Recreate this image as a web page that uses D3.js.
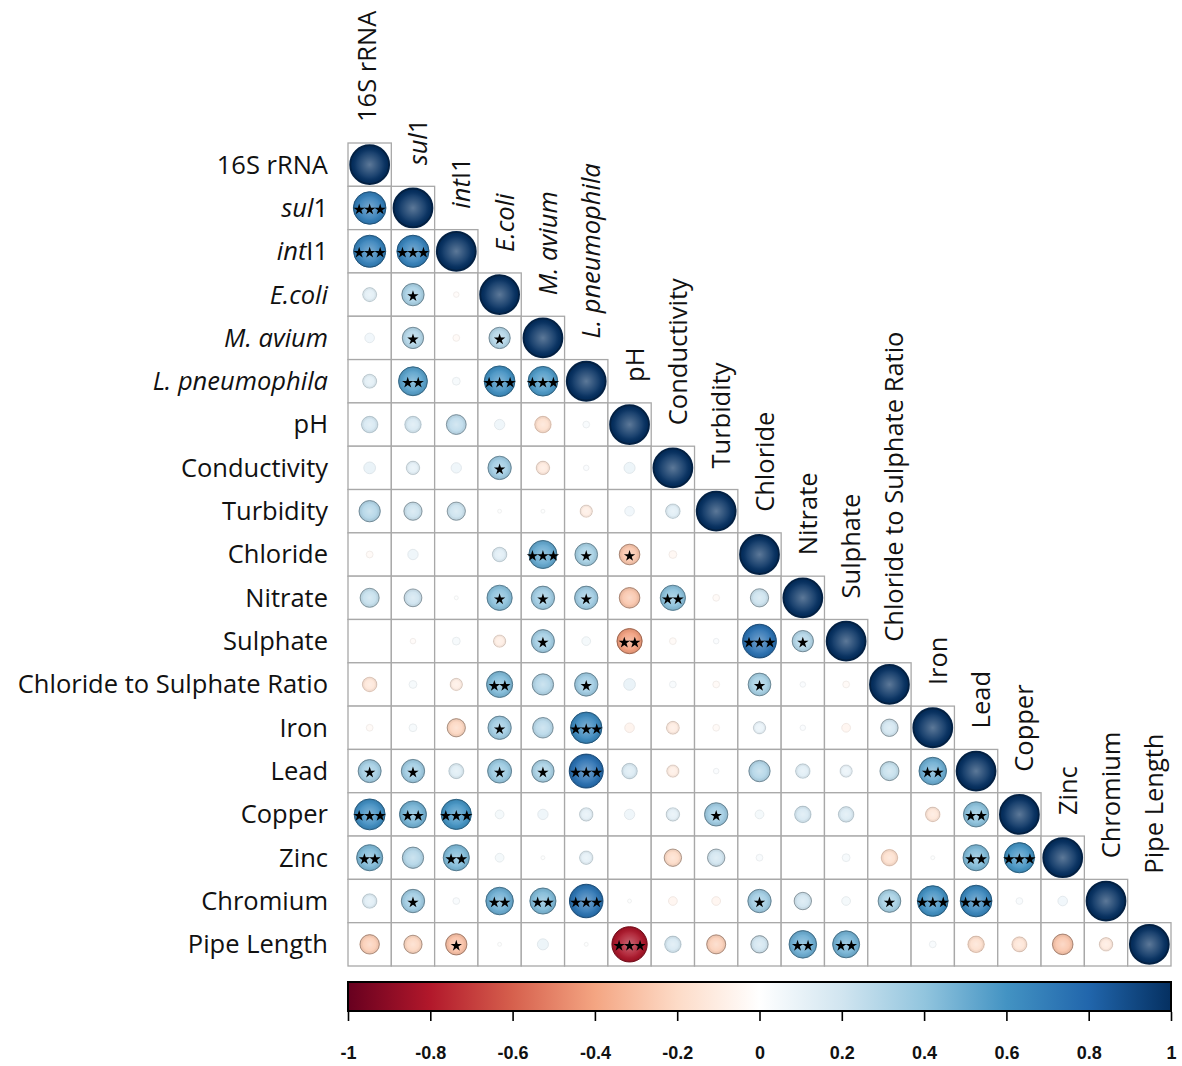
<!DOCTYPE html>
<html>
<head>
<meta charset="utf-8">
<script src="https://cdn.jsdelivr.net/npm/d3@7"></script>
<style>
  body { margin: 0; background: #fff; }
  svg text { font-family: "Open Sans", "Noto Sans", sans-serif; fill: #111; }
  .tick-lab { font-family: "Liberation Sans Narrow", "Liberation Sans", sans-serif; font-weight: bold; font-stretch: condensed; }
</style>
</head>
<body>
<svg id="chart" width="1182" height="1066"></svg>
<script>
// variables (rows and columns)
const labels = ["16S rRNA", "sul1", "intI1", "E.coli", "M. avium", "L. pneumophila", "pH",
  "Conductivity", "Turbidity", "Chloride", "Nitrate", "Sulphate", "Chloride to Sulphate Ratio",
  "Iron", "Lead", "Copper", "Zinc", "Chromium", "Pipe Length"];
// italic prefix of each label
const italicPart = { "sul1": "sul", "intI1": "int", "E.coli": "E.coli", "M. avium": "M. avium", "L. pneumophila": "L. pneumophila" };

// lower triangle, row i holds columns 0..i-1 (diagonal = 1)
const corr = [
  [],
  [0.70],
  [0.68, 0.68],
  [0.13, 0.33, -0.02],
  [0.06, 0.30, -0.03, 0.30],
  [0.13, 0.55, 0.04, 0.62, 0.58],
  [0.18, 0.18, 0.26, 0.07, -0.18, 0.03],
  [0.09, 0.12, 0.07, 0.36, -0.12, 0.02, 0.08],
  [0.30, 0.22, 0.22, 0.01, 0.01, -0.10, 0.06, 0.14],
  [-0.03, 0.07, 0, 0.14, 0.52, 0.34, -0.28, -0.04, 0],
  [0.24, 0.21, 0.01, 0.42, 0.36, 0.36, -0.28, 0.42, -0.03, 0.22],
  [0, -0.02, 0.04, -0.10, 0.35, 0.05, -0.42, -0.03, 0.02, 0.75, 0.30],
  [-0.14, 0.04, -0.10, 0.45, 0.30, 0.36, 0.09, 0.03, -0.03, 0.34, 0.02, -0.03],
  [-0.03, 0.04, -0.22, 0.36, 0.28, 0.65, -0.06, -0.11, -0.03, 0.10, 0.02, -0.05, 0.20],
  [0.35, 0.36, 0.15, 0.38, 0.33, 0.76, 0.16, -0.10, 0.02, 0.30, 0.14, 0.10, 0.24, 0.50],
  [0.63, 0.48, 0.60, 0.05, 0.07, 0.12, 0.07, 0.12, 0.36, 0.05, 0.18, 0.16, 0, -0.14, 0.42],
  [0.45, 0.30, 0.45, 0.05, 0.01, 0.12, 0, -0.20, 0.20, 0.03, 0, 0.04, -0.18, 0.01, 0.45, 0.60],
  [0.14, 0.36, 0.03, 0.50, 0.45, 0.74, 0.01, -0.05, -0.05, 0.36, 0.20, 0.05, 0.34, 0.62, 0.66, 0.03, 0.06],
  [-0.25, -0.22, -0.30, 0.01, 0.08, 0.01, -0.82, 0.18, -0.24, 0.20, 0.50, 0.48, 0, 0.03, -0.18, -0.15, -0.28, -0.12]
];
// number of significance stars, same shape as corr
const sig = [
  [],
  [3],
  [3, 3],
  [0, 1, 0],
  [0, 1, 0, 1],
  [0, 2, 0, 3, 3],
  [0, 0, 0, 0, 0, 0],
  [0, 0, 0, 1, 0, 0, 0],
  [0, 0, 0, 0, 0, 0, 0, 0],
  [0, 0, 0, 0, 3, 1, 1, 0, 0],
  [0, 0, 0, 1, 1, 1, 0, 2, 0, 0],
  [0, 0, 0, 0, 1, 0, 2, 0, 0, 3, 1],
  [0, 0, 0, 2, 0, 1, 0, 0, 0, 1, 0, 0],
  [0, 0, 0, 1, 0, 3, 0, 0, 0, 0, 0, 0, 0],
  [1, 1, 0, 1, 1, 3, 0, 0, 0, 0, 0, 0, 0, 2],
  [3, 2, 3, 0, 0, 0, 0, 0, 1, 0, 0, 0, 0, 0, 2],
  [2, 0, 2, 0, 0, 0, 0, 0, 0, 0, 0, 0, 0, 0, 2, 3],
  [0, 1, 0, 2, 2, 3, 0, 0, 0, 1, 0, 0, 1, 3, 3, 0, 0],
  [0, 0, 1, 0, 0, 0, 3, 0, 0, 0, 2, 2, 0, 0, 0, 0, 0, 0]
];
// colour bar
const barTicks = [-1, -0.8, -0.6, -0.4, -0.2, 0, 0.2, 0.4, 0.6, 0.8, 1];
const rdbu = ["#67001F", "#B2182B", "#D6604D", "#F4A582", "#FDDBC7", "#FFFFFF",
  "#D1E5F0", "#92C5DE", "#4393C3", "#2166AC", "#053061"];

const svg = d3.select("#chart");
const n = labels.length;
const gridLeft = 348, gridTop = 143, gridW = 823;
const labelSize = 25.5;

const x = d3.scaleBand().domain(d3.range(n)).range([gridLeft, gridLeft + gridW]);
const y = d3.scaleBand().domain(d3.range(n)).range([gridTop, gridTop + gridW]);
const cell = x.bandwidth();
const color = d3.scaleLinear().domain(barTicks).range(rdbu).interpolate(d3.interpolateRgb);
const rScale = d3.scaleSqrt().domain([0, 1]).range([0, cell * 0.45]);

// flatten cells
const cells = [];
for (let i = 0; i < n; i++) {
  for (let j = 0; j <= i; j++) {
    cells.push({ i, j, v: i === j ? 1 : corr[i][j], s: i === j ? 0 : sig[i][j] });
  }
}

const defs = svg.append("defs");
const gloss = defs.append("radialGradient").attr("id", "gloss")
  .attr("cx", "50%").attr("cy", "50%").attr("r", "50%");
gloss.append("stop").attr("offset", "0%").attr("stop-color", "#fff").attr("stop-opacity", 0.35);
gloss.append("stop").attr("offset", "65%").attr("stop-color", "#fff").attr("stop-opacity", 0.08);
gloss.append("stop").attr("offset", "88%").attr("stop-color", "#000").attr("stop-opacity", 0.05);
gloss.append("stop").attr("offset", "100%").attr("stop-color", "#000").attr("stop-opacity", 0.2);

// grid cells
svg.append("g").selectAll("rect").data(cells).join("rect")
  .attr("x", d => x(d.j)).attr("y", d => y(d.i))
  .attr("width", cell).attr("height", cell)
  .attr("fill", "#fff").attr("stroke", "#a8a8a8").attr("stroke-width", 1.3);

// circles
const cg = svg.append("g").selectAll("g").data(cells.filter(d => Math.abs(d.v) > 0.005)).join("g")
  .attr("transform", d => `translate(${x(d.j) + cell / 2},${y(d.i) + cell / 2})`);
cg.append("circle")
  .attr("r", d => rScale(Math.abs(d.v)))
  .attr("fill", d => color(d.v))
  .attr("stroke", d => {
    const c = d3.color(color(d.v));
    return Math.abs(d.v) < 0.2 ? c.darker(0.15) : c.darker(0.8);
  })
  .attr("stroke-width", d => d.i === d.j ? 1.8 : 1);
cg.filter(d => Math.abs(d.v) >= 0.1).append("circle")
  .attr("r", d => rScale(Math.abs(d.v)))
  .attr("fill", "url(#gloss)");

// stars
const star = d3.symbol().type(d3.symbolStar).size(40);
cg.each(function (d) {
  for (let k = 0; k < d.s; k++) {
    d3.select(this).append("path")
      .attr("d", star)
      .attr("transform", `translate(${(k - (d.s - 1) / 2) * 10.5},1.5)`)
      .attr("fill", "#000");
  }
});

function writeLabel(sel, lab) {
  const it = italicPart[lab] || "";
  if (it) sel.append("tspan").attr("font-style", "italic").text(it);
  if (lab.length > it.length) sel.append("tspan").text(lab.slice(it.length));
}

// row labels
svg.append("g").selectAll("text").data(labels).join("text")
  .attr("x", 328).attr("y", (d, i) => y(i) + cell / 2)
  .attr("dy", "0.35em").attr("text-anchor", "end")
  .attr("font-size", labelSize)
  .each(function (d) { writeLabel(d3.select(this), d); });

// column labels (small nudges where the original sits off the common line)
const nudge = { "16S rRNA": [-8, 0], "Pipe Length": [0, -28] };
svg.append("g").selectAll("text").data(labels).join("text")
  .attr("transform", (d, i) => {
    const [dx, dy] = nudge[d] || [0, 0];
    return `translate(${x(i) + cell / 2 + 14 + dx},${y(i) - 21 + dy}) rotate(-90)`;
  })
  .attr("text-anchor", "start")
  .attr("font-size", labelSize)
  .each(function (d) { writeLabel(d3.select(this), d); });

// colour bar
const barX = d3.scaleLinear().domain([-1, 1]).range([gridLeft, gridLeft + gridW]);
const grad = defs.append("linearGradient").attr("id", "bar");
barTicks.forEach((t, k) => grad.append("stop")
  .attr("offset", (t + 1) / 2).attr("stop-color", rdbu[k]));
svg.append("rect")
  .attr("x", barX(-1)).attr("y", 982).attr("width", barX(1) - barX(-1)).attr("height", 29)
  .attr("fill", "url(#bar)").attr("stroke", "#000").attr("stroke-width", 2);

const axis = d3.axisBottom(barX).tickValues(barTicks).tickSize(9).tickPadding(25)
  .tickFormat(d => String(+d.toFixed(1)));
const ax = svg.append("g").attr("transform", "translate(0,1012)").call(axis);
ax.select(".domain").remove();
ax.selectAll(".tick line").attr("stroke", "#000").attr("stroke-width", 1.6);
ax.selectAll(".tick text").attr("class", "tick-lab").attr("font-size", 18).attr("fill", "#111");
</script>
</body>
</html>
